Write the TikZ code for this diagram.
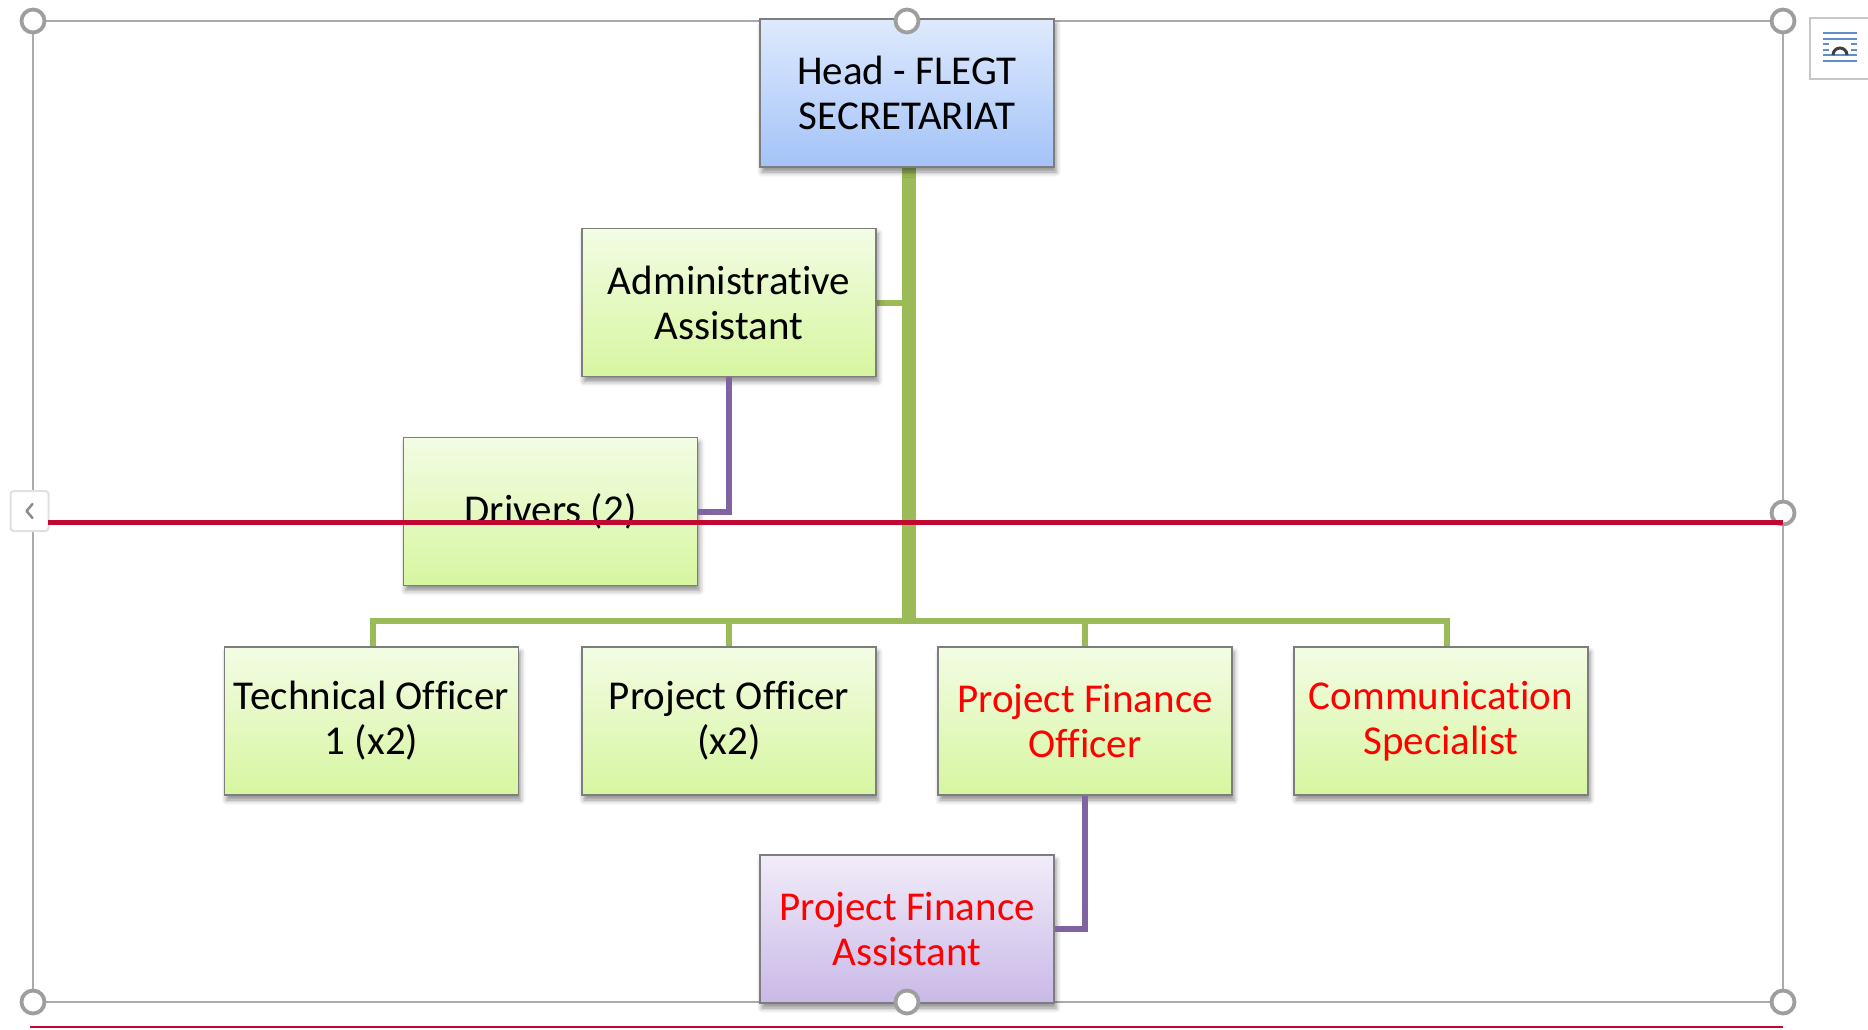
\documentclass[tikz,border=0pt]{standalone}
\usepackage{fontspec}
\setmainfont{Carlito}[Ligatures=NoCommon]
\usetikzlibrary{shadows.blur}
\definecolor{gline}{RGB}{155,187,89}
\definecolor{pline}{RGB}{128,100,162}
\definecolor{redline}{RGB}{192,8,50}
\definecolor{boxborder}{RGB}{125,125,125}
\definecolor{bluetop}{RGB}{222,234,253}
\definecolor{bluebot}{RGB}{164,195,248}
\definecolor{greentop}{RGB}{243,252,228}
\definecolor{greenbot}{RGB}{214,246,160}
\definecolor{purptop}{RGB}{241,236,249}
\definecolor{purpbot}{RGB}{201,185,231}
\definecolor{redtext}{RGB}{255,0,0}
\definecolor{handlegray}{RGB}{158,158,158}
\definecolor{framegray}{RGB}{172,172,172}
\definecolor{iconblue}{RGB}{95,143,200}
\begin{document}
\begin{tikzpicture}[x=1pt,y=-1pt,
  orgbox/.style={rectangle, minimum width=294pt, minimum height=148pt, inner sep=0pt,
    draw=boxborder, line width=1.6pt, align=center, font=\fontsize{41}{45}\selectfont,
    blur shadow={shadow xshift=2pt, shadow yshift=-5pt, shadow blur radius=5pt, shadow opacity=45}},
  bluebox/.style={orgbox, top color=bluetop, bottom color=bluebot},
  greenbox/.style={orgbox, top color=greentop, bottom color=greenbot},
  purpbox/.style={orgbox, top color=purptop, bottom color=purpbot},
  redlabel/.style={text=redtext},
  trunk/.style={draw=gline, line width=14pt},
  branch/.style={draw=gline, line width=6.5pt},
  plink/.style={draw=pline, line width=6pt},
  handle/.style={circle, draw=handlegray, fill=white, line width=3.8pt, minimum size=23pt, inner sep=0pt},
  framebox/.style={draw=framegray, line width=2pt},
  cutline/.style={draw=redline, line width=5pt}]
\useasboundingbox (0,0) rectangle (1868,1029);
% selection frame
\coordinate (f1) at (33,21);
\coordinate (f2) at (1783,21);
\coordinate (f3) at (1783,1002);
\coordinate (f4) at (33,1002);
\draw[framebox] (f1) -- (f2) -- (f3) -- (f4) -- cycle;
% bottom red line
\coordinate (b1) at (30,1027);
\coordinate (b2) at (1783,1027);
\draw[draw=redline, line width=2.5pt] (b1) -- (b2);
% junction coordinates
\coordinate (j1) at (909,621);
% connectors (drawn before boxes)
\coordinate (hs) at (909,167);
\draw[trunk] (hs) -- (j1);
\coordinate (ajoin) at (909,303);
\coordinate (aeast) at (877,303);
\draw[branch] (aeast) -- (ajoin);
\coordinate (bt) at (373,621);
\coordinate (bc) at (1447,621);
\draw[branch, line join=miter] (bt) -- (bc);
\coordinate (d1) at (373,647);
\coordinate (d2) at (729,647);
\coordinate (d3) at (1085,647);
\coordinate (d4) at (1447,647);
\draw[branch] (373,618) -- (d1);
\draw[branch] (729,621) -- (d2);
\draw[branch] (1085,621) -- (d3);
\draw[branch] (1447,618) -- (d4);
% boxes
\node[bluebox] (head) at (907,93) {Head - FLEGT\\SECRETARIAT};
\node[greenbox] (admin) at (729,302.5) {Administrative\\Assistant};
\node[greenbox] (drivers) at (550.5,511.5) {Drivers (2)};
\node[greenbox] (tech) at (371.5,721) {Technical Officer\\1 (x2)};
\node[greenbox] (proj) at (729,721) {Project Officer\\(x2)};
\node[greenbox, redlabel] (pfo) at (1085,721) {Project Finance\\Officer};
\node[greenbox, redlabel] (comm) at (1441,721) {Communication\\Specialist};
\node[purpbox, redlabel] (pfa) at (907,929) {Project Finance\\Assistant};
% purple links
\draw[plink] (admin.south) |- (drivers.east);
\draw[plink] (pfo.south) |- (pfa.east);
% handles
\node[handle] (h1) at (33,21) {};
\node[handle] (h2) at (907,21) {};
\node[handle] (h3) at (1783,21) {};
\node[handle] (h4) at (1783,513) {};
\node[handle] (h5) at (33,1002) {};
\node[handle] (h6) at (907,1002) {};
\node[handle] (h7) at (1783,1002) {};
% left collapse icon
\node[draw=black!12, fill=white, line width=2pt, rounded corners=3pt, minimum width=38pt, minimum height=40pt, inner sep=0pt] (lefticon) at (29.5,511) {};
\draw[draw=black!45, line width=2.5pt, line cap=round, line join=round] ([shift={(3,-7)}]lefticon.center) -- ([shift={(-3,0)}]lefticon.center) -- ([shift={(3,7)}]lefticon.center);
% red horizontal line
\coordinate (r1) at (48,522);
\coordinate (r2) at (1783,522);
\draw[cutline] (r1) -- (r2);
% top-right layout icon
\draw[draw=black!22, line width=1.5pt, fill=white] (1868,18) -- (1810,18) -- (1810,79) -- (1868,79);
\foreach \yy in {33,39,55,61} {\draw[draw=iconblue, line width=1.6pt] (1823,\yy) -- (1857,\yy);}
\foreach \yy in {44,50} {\draw[draw=iconblue, line width=1.6pt] (1823,\yy) -- (1829,\yy); \draw[draw=iconblue, line width=1.6pt] (1851,\yy) -- (1857,\yy);}
\draw[draw=black!75, line width=3pt] (1833,55) arc[start angle=180, end angle=360, radius=7];
\end{tikzpicture}
\end{document}
